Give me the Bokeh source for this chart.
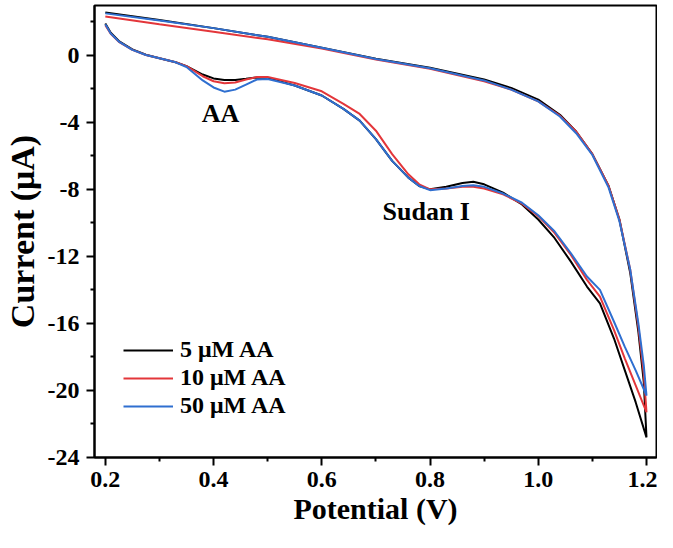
from bokeh.plotting import figure
from bokeh.models import FixedTicker, Legend, LegendItem, Label
from bokeh.embed import file_html
from bokeh.resources import INLINE

# ---------------- data ----------------
# forward (lower) branch potentials, V
v_fwd = [0.20, 0.21, 0.225, 0.25, 0.275, 0.30, 0.33, 0.35, 0.38, 0.40, 0.42, 0.44, 0.46,
         0.48, 0.50, 0.55, 0.60, 0.64, 0.67, 0.70, 0.73, 0.76, 0.78, 0.80, 0.83, 0.86,
         0.88, 0.90, 0.935, 0.97, 1.00, 1.03, 1.06, 1.09, 1.114, 1.14, 1.16, 1.18, 1.20]
# reverse (upper) branch potentials, V
v_rev = [1.20, 1.195, 1.185, 1.17, 1.15, 1.13, 1.10, 1.07, 1.04, 1.00, 0.95, 0.90,
         0.80, 0.70, 0.60, 0.50, 0.40, 0.30, 0.20]

i_fwd_5 = [1.90, 1.35, 0.85, 0.35, 0.03, -0.18, -0.42, -0.65, -1.15, -1.38, -1.47, -1.47, -1.40,
           -1.32, -1.35, -1.80, -2.40, -3.20, -3.90, -5.00, -6.30, -7.30, -7.80, -8.00, -7.85, -7.62,
           -7.55, -7.70, -8.20, -8.90, -9.80, -10.90, -12.30, -13.80, -14.80, -16.90, -18.80, -20.70, -22.80]
i_rev_5 = [-22.80, -19.50, -16.50, -13.00, -9.80, -7.80, -5.90, -4.55, -3.55, -2.65, -1.95, -1.45,
           -0.75, -0.20, 0.45, 1.10, 1.62, 2.10, 2.55]

i_fwd_10 = [1.80, 1.28, 0.80, 0.32, 0.02, -0.18, -0.42, -0.65, -1.25, -1.55, -1.67, -1.62, -1.45,
            -1.30, -1.30, -1.65, -2.15, -2.90, -3.50, -4.50, -5.90, -7.10, -7.70, -8.00, -7.95, -7.85,
            -7.85, -7.95, -8.30, -8.85, -9.60, -10.60, -11.90, -13.40, -14.40, -16.40, -18.10, -19.70, -21.30]
i_rev_10 = [-21.30, -19.00, -16.20, -12.80, -9.80, -7.80, -5.90, -4.55, -3.60, -2.75, -2.05, -1.55,
            -0.80, -0.25, 0.40, 0.95, 1.40, 1.85, 2.32]

i_fwd_50 = [1.85, 1.30, 0.82, 0.32, 0.02, -0.18, -0.42, -0.70, -1.50, -1.92, -2.17, -2.05, -1.75,
            -1.45, -1.42, -1.80, -2.40, -3.20, -3.90, -5.00, -6.30, -7.30, -7.80, -8.05, -7.95, -7.80,
            -7.75, -7.85, -8.25, -8.80, -9.55, -10.50, -11.80, -13.20, -14.00, -15.90, -17.40, -18.80, -20.30]
i_rev_50 = [-20.30, -18.50, -16.00, -12.80, -9.90, -7.90, -5.95, -4.65, -3.65, -2.75, -2.05, -1.50,
            -0.78, -0.22, 0.45, 1.10, 1.62, 2.08, 2.50]

series_names = ["5 \u03bcM AA", "10 \u03bcM AA", "50 \u03bcM AA"]
series_colors = ["#000000", "#e3363a", "#2f6fd0"]

x_ticks = [0.2, 0.4, 0.6, 0.8, 1.0, 1.2]
x_minor = [0.3, 0.5, 0.7, 0.9, 1.1]
y_ticks = [-24, -20, -16, -12, -8, -4, 0]
y_minor = [-22, -18, -14, -10, -6, -2, 2]

# ---------------- figure ----------------
FONT = "Liberation Serif"

p = figure(width=657, height=540, output_backend="svg", toolbar_location=None,
           x_range=(0.18, 1.2185), y_range=(-24, 2.97),
           min_border_left=93, min_border_right=1, min_border_top=5, min_border_bottom=83)
p.xgrid.visible = False
p.ygrid.visible = False
p.outline_line_color = "black"
p.outline_line_width = 2
p.outline_line_alpha = 1
p.background_fill_color = "white"
p.border_fill_color = "white"

p.xaxis.ticker = FixedTicker(ticks=x_ticks, minor_ticks=x_minor)
p.yaxis.ticker = FixedTicker(ticks=y_ticks, minor_ticks=y_minor)
p.xaxis.major_label_overrides = {t: f"{t:.1f}" for t in x_ticks}
p.yaxis.major_label_overrides = {t: str(t) for t in y_ticks}

for ax in (p.xaxis[0], p.yaxis[0]):
    ax.axis_line_width = 2
    ax.major_tick_line_width = 2
    ax.minor_tick_line_width = 2
    ax.major_tick_in = 0
    ax.major_tick_out = 8
    ax.minor_tick_in = 0
    ax.minor_tick_out = 4
    ax.major_label_text_font = FONT
    ax.major_label_text_font_style = "bold"
    ax.major_label_text_font_size = "24px"
    ax.major_label_text_color = "black"
    ax.axis_label_text_font = FONT
    ax.axis_label_text_font_style = "bold"
    ax.axis_label_text_color = "black"

p.xaxis.axis_label = "Potential (V)"
p.yaxis.axis_label = "Current (\u03bcA)"
p.xaxis.axis_label_text_font_size = "30px"
p.yaxis.axis_label_text_font_size = "34px"
p.xaxis.major_label_standoff = 6
p.yaxis.major_label_standoff = 7
p.xaxis.axis_label_standoff = 2
p.yaxis.axis_label_standoff = 4

fwd = [i_fwd_5, i_fwd_10, i_fwd_50]
rev = [i_rev_5, i_rev_10, i_rev_50]
items = []
for name, color, f, r in zip(series_names, series_colors, fwd, rev):
    xs = v_fwd + v_rev[1:]
    ys = f + r[1:]
    rl = p.line(xs, ys, line_color=color, line_width=2)
    items.append(LegendItem(label=name, renderers=[rl]))

legend = Legend(items=items, location=(29, 38), padding=0, margin=0,
                spacing=1, glyph_width=50, glyph_height=22, label_height=22,
                label_standoff=7, border_line_alpha=0, background_fill_alpha=0,
                label_text_font=FONT, label_text_font_style="bold",
                label_text_font_size="24px", label_text_color="black")
p.add_layout(legend, "center")

for txt, lx, ly in (("AA", 0.413, -3.5), ("Sudan I", 0.793, -9.35)):
    p.add_layout(Label(x=lx, y=ly, text=txt, text_align="center", text_baseline="middle",
                       text_font=FONT, text_font_style="bold", text_font_size="26px",
                       text_color="black"))

open("out.html", "w").write(file_html(p, INLINE))
